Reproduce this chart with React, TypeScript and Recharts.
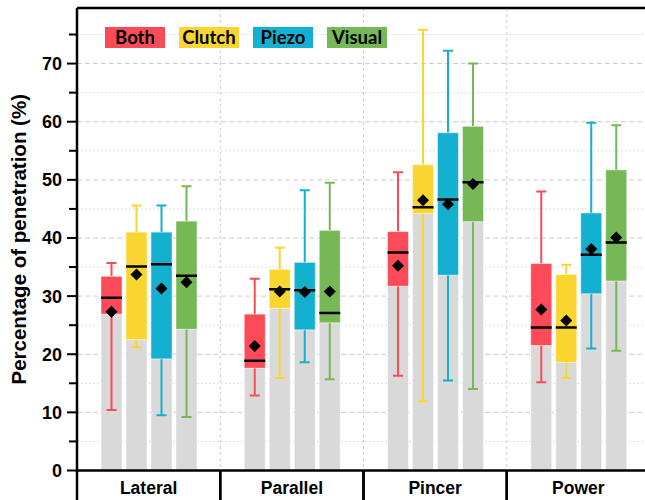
import { ComposedChart, Bar, XAxis, YAxis, CartesianGrid, ReferenceLine, Legend, Label } from "recharts";

const categories = ['Lateral', 'Parallel', 'Pincer', 'Power'];
// per category: [min, q1, median, q3, max, mean]
const both = [[10.4, 26.9, 29.7, 33.4, 35.7, 27.3], [12.9, 17.6, 18.9, 26.9, 33.0, 21.4], [16.3, 31.7, 37.5, 41.1, 51.3, 35.2], [15.2, 21.5, 24.6, 35.6, 48.0, 27.7]];
const clutch = [[21.2, 22.5, 35.1, 41.0, 45.6, 33.7], [15.9, 27.9, 31.2, 34.6, 38.3, 30.8], [11.9, 44.2, 45.3, 52.6, 75.8, 46.5], [15.9, 18.6, 24.6, 33.7, 35.4, 25.8]];
const piezo = [[9.5, 19.2, 35.5, 41.0, 45.6, 31.3], [18.6, 24.2, 31.0, 35.8, 48.2, 30.7], [15.5, 33.6, 46.6, 58.1, 72.2, 45.8], [21.0, 30.4, 37.1, 44.3, 59.8, 38.1]];
const visual = [[9.2, 24.3, 33.5, 42.9, 48.9, 32.4], [15.7, 25.4, 27.1, 41.3, 49.5, 30.8], [14.0, 42.8, 49.6, 59.2, 70.0, 49.3], [20.6, 32.6, 39.2, 51.7, 59.4, 40.1]];
const yTicks = [0, 5, 10, 15, 20, 25, 30, 35, 40, 45, 50, 55, 60, 65, 70, 75];

const series = [
  { key: 'both', name: 'Both', color: '#FB4B58', stats: both },
  { key: 'clutch', name: 'Clutch', color: '#F9D52F', stats: clutch },
  { key: 'piezo', name: 'Piezo', color: '#14B0D0', stats: piezo },
  { key: 'visual', name: 'Visual', color: '#75B855', stats: visual },
];

const data = categories.map((name, i) => {
  const row: any = { name };
  series.forEach(s => {
    const st = s.stats[i];
    row[s.key + '_base'] = st[1];
    row[s.key + '_box'] = st[3] - st[1];
    row[s.key + '_stats'] = st;
  });
  return row;
});

const W = 660, H = 500;
const M = { top: 8, right: 10, left: 0, bottom: 0 };
const YW = 77;
const bandW = (W - M.left - M.right - YW) / categories.length;
const axisFont = '"Liberation Sans", Arial, sans-serif';

const BoxShape = (props: any) => {
  const { x, y, width, height, payload, sKey, color } = props;
  const [mn, q1, md, q3, mx, mean] = payload[sKey + '_stats'];
  const k = height / (q3 - q1);
  const py = (v: number) => y + (q3 - v) * k;
  const cx = x + width / 2;
  const my = py(mean);
  const d = 6;
  return (
    <g>
      <line x1={cx} x2={cx} y1={py(mx)} y2={y} stroke={color} strokeWidth={2} />
      <line x1={cx - 5} x2={cx + 5} y1={py(mx)} y2={py(mx)} stroke={color} strokeWidth={2} />
      <line x1={cx} x2={cx} y1={y + height} y2={py(mn)} stroke={color} strokeWidth={2} />
      <line x1={cx - 5} x2={cx + 5} y1={py(mn)} y2={py(mn)} stroke={color} strokeWidth={2} />
      <rect x={x} y={y} width={width} height={height} fill={color} stroke="rgba(255,255,255,0.45)" strokeWidth={1} />
      <line x1={x} x2={x + width} y1={py(md)} y2={py(md)} stroke="#000" strokeWidth={2.5} />
      <path d={`M${cx},${my - d} L${cx + d},${my} L${cx},${my + d} L${cx - d},${my} Z`} fill="#000" />
    </g>
  );
};

const YTick = ({ x, y, payload }: any) => {
  const major = payload.value % 10 === 0;
  return (
    <g>
      <line x1={x - (major ? 10 : 8)} x2={x} y1={y} y2={y} stroke="#000" strokeWidth={2} />
      {major && (
        <text x={x - 15} y={y} dy={6.5} textAnchor="end" fontFamily={axisFont} fontWeight="bold" fontSize={18} fill="#000">
          {payload.value}
        </text>
      )}
    </g>
  );
};

const XTick = ({ x, y, payload }: any) => (
  <g>
    <text x={x} y={y + 23} textAnchor="middle" fontFamily={axisFont} fontWeight="bold" fontSize={17.5} fill="#000">
      {payload.value}
    </text>
    <line x1={x - bandW / 2} x2={x - bandW / 2} y1={y} y2={y + 35} stroke="#000" strokeWidth={2.5} />
    <line x1={x + bandW / 2} x2={x + bandW / 2} y1={y} y2={y + 35} stroke="#000" strokeWidth={2.5} />
  </g>
);

const LegendBox = () => (
  <div style={{ display: 'flex', gap: 14 }}>
    {series.map(s => (
      <span key={s.key} style={{
        display: 'inline-block', width: 60, height: 21, lineHeight: '21px', background: s.color,
        textAlign: 'center', fontFamily: 'Lato, sans-serif', fontWeight: 'bold', fontSize: 18.5, color: '#000',
      }}>{s.name}</span>
    ))}
  </div>
);

const App = () => {
  return (
    <div style={{ position: 'absolute', left: 0, top: 0, width: 645, height: 500, overflow: 'hidden' }}>
      <ComposedChart width={W} height={H} data={data} margin={M} barGap={4}>
        <CartesianGrid horizontal={true} vertical={false} horizontalValues={[5, 15, 25, 35, 45, 55, 65, 75]} stroke="#dedede" strokeDasharray="2 2" />
        <CartesianGrid horizontal={true} vertical={false} horizontalValues={[10, 20, 30, 40, 50, 60, 70]} stroke="#cccccc" strokeDasharray="5 3" />
        <CartesianGrid horizontal={false} vertical={true} stroke="#cccccc" strokeDasharray="3 3"
          verticalCoordinatesGenerator={({ offset }: any) => [1, 2, 3].map(i => offset.left + offset.width * i / 4)} />
        <XAxis dataKey="name" height={29.5} tickSize={0} tickMargin={0} tickLine={false} axisLine={{ stroke: '#000', strokeWidth: 2.5 }} tick={<XTick />} interval={0} />
        <YAxis width={YW} domain={[0, 79.56]} ticks={yTicks} tickSize={0} tickMargin={0} tickLine={false} axisLine={{ stroke: '#000', strokeWidth: 2.5 }} tick={<YTick />} allowDataOverflow>
          <Label content={({ viewBox }: any) => {
            const lx = 25.5;
            const ly = viewBox.y + viewBox.height / 2;
            return (
              <text x={lx} y={ly} transform={`rotate(-90 ${lx} ${ly})`} textAnchor="middle" fontFamily={axisFont} fontWeight="bold" fontSize={20.5} fill="#000">
                Percentage of penetration (%)
              </text>
            );
          }} />
        </YAxis>
        <ReferenceLine y={79.56} stroke="#000" strokeWidth={2.5} />
        <Legend layout="horizontal" verticalAlign="middle" align="center" wrapperStyle={{ left: 105, top: 27, width: 300 }} content={() => <LegendBox />} />
        {series.map(s => [
          <Bar key={s.key + '_base'} dataKey={s.key + '_base'} stackId={s.key} barSize={21} fill="#d9d9d9" stroke="rgba(255,255,255,0.5)" isAnimationActive={false} legendType="none" />,
          <Bar key={s.key + '_box'} dataKey={s.key + '_box'} name={s.name} stackId={s.key} barSize={21} fill={s.color} isAnimationActive={false}
            shape={(p: any) => <BoxShape {...p} sKey={s.key} color={s.color} />} />,
        ])}
      </ComposedChart>
    </div>
  );
};

export default App;
